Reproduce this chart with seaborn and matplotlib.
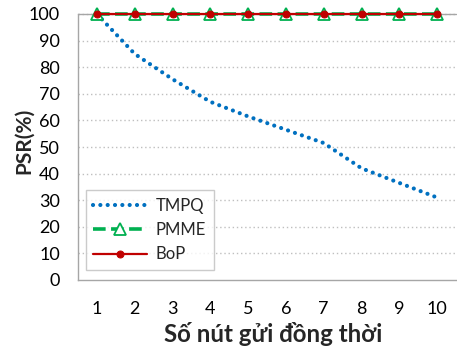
import matplotlib
matplotlib.use("Agg")
import matplotlib.pyplot as plt
import seaborn as sns
import pandas as pd

nodes = [1, 2, 3, 4, 5, 6, 7, 8, 9, 10]
tmpq = [100, 85, 75.5, 67, 61.5, 56.5, 51.5, 42, 36.5, 31]
pmme = [100, 100, 100, 100, 100, 100, 100, 100, 100, 100]
bop = [100, 100, 100, 100, 100, 100, 100, 100, 100, 100]
yticks = [0, 10, 20, 30, 40, 50, 60, 70, 80, 90, 100]

sns.set_theme(style="white")
plt.rcParams['font.family'] = ['Lato', 'DejaVu Sans']

fig = plt.figure(figsize=(4.57, 3.53), dpi=100)
ax = fig.add_axes([78/457, 1-280/353, 378/457, 266/353])

ax.set_ylim(0, 100)
ax.set_xlim(0.5, 10.5)
for y in yticks[1:]:
    ax.axhline(y, color="#bfbfbf", lw=1, ls=(0, (1, 2)), zorder=0)
ax.axhline(100, color="#a6a6a6", lw=1, zorder=0)

df_t = pd.DataFrame({"x": nodes, "y": tmpq})
df_p = pd.DataFrame({"x": nodes, "y": pmme})
df_b = pd.DataFrame({"x": nodes, "y": bop})

sns.lineplot(data=df_t, x="x", y="y", ax=ax, color="#0070C0", lw=3,
             linestyle=(0, (0.01, 1.75)), label="TMPQ")
ax.lines[-1].set_dash_capstyle("round")
sns.lineplot(data=df_p, x="x", y="y", ax=ax, color="#00B050", lw=2.6,
             linestyle=(0, (3.5, 1.5)), marker="^", markersize=8,
             markerfacecolor="white", markeredgecolor="#00B050",
             markeredgewidth=1.3, label="PMME")
sns.lineplot(data=df_b, x="x", y="y", ax=ax, color="#C00000", lw=1.6,
             marker="o", markersize=5, markerfacecolor="#C00000",
             markeredgecolor="#C00000", label="BoP")
for l in ax.lines:
    l.set_clip_on(False)

ax.set_xticks(nodes)
ax.set_yticks(yticks)
ax.tick_params(axis="y", labelsize=13, length=0, pad=13, colors="#000000")
ax.tick_params(axis="x", labelsize=13, length=0, pad=15, colors="#000000")
for s in ["top", "right"]:
    ax.spines[s].set_visible(False)
ax.spines["bottom"].set_color("#a6a6a6")
ax.spines["left"].set_color("#a6a6a6")
ax.spines["bottom"].set_linewidth(1)
ax.spines["left"].set_linewidth(1)
ax.set_xlabel("Số nút gửi đồng thời", fontsize=17.3, fontweight="bold")
ax.xaxis.set_label_coords((273.5 - 78) / 378, -(334 - 280) / 266)
ax.xaxis.label.set_va("center")
ax.set_ylabel("PSR(%)", fontsize=15, fontweight="bold")
ax.yaxis.set_label_coords((24 - 78) / 378, (280 - 141) / 266)
ax.yaxis.label.set_va("center")

leg = ax.legend(loc="lower left", bbox_to_anchor=(0.021, 0.038), borderaxespad=0,
                fontsize=12, frameon=True, fancybox=False, edgecolor="#bfbfbf",
                handlelength=3.2, handletextpad=0.55, borderpad=0.45,
                labelspacing=0.5)
leg.get_frame().set_linewidth(1)

fig.savefig("out.png", dpi=100)
